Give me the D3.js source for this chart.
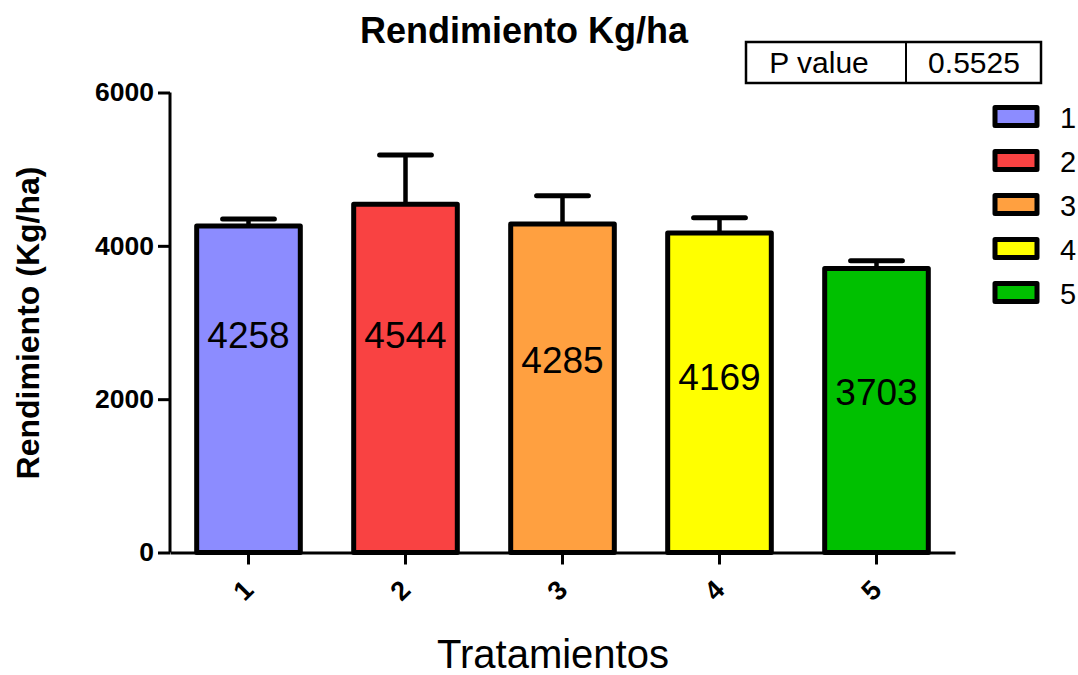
<!DOCTYPE html>
<html>
<head>
<meta charset="utf-8">
<script src="https://cdn.jsdelivr.net/npm/d3@7"></script>
<style>
  body { margin: 0; background: #fff; }
  text { font-family: Arial, "Liberation Sans", sans-serif; }
</style>
</head>
<body>
<div id="container"></div>
<script>
var width = 1078,
    height = 675;

// data
var treatments = ["1", "2", "3", "4", "5"];
var means = [4258, 4544, 4285, 4169, 3703];
var sem = [92, 641, 369, 198, 103];
var labelAt = [2661, 2661, 2335, 2126, 1930];   // where the value labels sit (Kg/ha)
var colors = ["#8c8cff", "#f94242", "#ffa040", "#ffff00", "#00c000"];
var yTicks = [0, 2000, 4000, 6000];
var pValue = "0.5525";

var svg = d3.select("#container").append("svg")
    .attr("width", width)
    .attr("height", height);

var x = d3.scaleBand()
    .domain(treatments)
    .range([170, 955])
    .paddingInner(0.34)
    .paddingOuter(0.17);

var y = d3.scaleLinear()
    .domain([0, 6000])
    .range([552.5, 92.5]);

// bars
svg.selectAll(".bar")
    .data(means)
    .enter().append("rect")
    .attr("class", "bar")
    .attr("x", (d, i) => x(treatments[i]))
    .attr("y", d => y(d))
    .attr("width", x.bandwidth())
    .attr("height", d => y(0) - y(d))
    .attr("fill", (d, i) => colors[i])
    .attr("stroke", "#000")
    .attr("stroke-width", 5)
    .attr("stroke-linejoin", "round");

// error bars (upper only)
var eb = svg.selectAll(".err")
    .data(means)
    .enter().append("g")
    .attr("class", "err");
eb.append("line")
    .attr("x1", (d, i) => x(treatments[i]) + x.bandwidth() / 2)
    .attr("x2", (d, i) => x(treatments[i]) + x.bandwidth() / 2)
    .attr("y1", d => y(d))
    .attr("y2", (d, i) => y(d + sem[i]))
    .attr("stroke", "#000")
    .attr("stroke-width", 4.5);
eb.append("line")
    .attr("x1", (d, i) => x(treatments[i]) + x.bandwidth() / 4)
    .attr("x2", (d, i) => x(treatments[i]) + x.bandwidth() * 3 / 4)
    .attr("y1", (d, i) => y(d + sem[i]))
    .attr("y2", (d, i) => y(d + sem[i]))
    .attr("stroke", "#000")
    .attr("stroke-width", 5)
    .attr("stroke-linecap", "round");

// value labels
svg.selectAll(".val")
    .data(means)
    .enter().append("text")
    .attr("class", "val")
    .attr("x", (d, i) => x(treatments[i]) + x.bandwidth() / 2)
    .attr("y", (d, i) => y(labelAt[i]))
    .attr("text-anchor", "middle")
    .attr("font-size", 37)
    .text(d => d);

// y axis
var yAxis = svg.append("g")
    .attr("transform", "translate(170,0)")
    .call(d3.axisLeft(y).tickValues(yTicks).tickSize(12).tickPadding(4).tickFormat(d3.format("d")));
yAxis.select(".domain").attr("stroke-width", 3).attr("d", "M0," + y(6000) + "V" + y(0));
yAxis.selectAll(".tick line").attr("stroke-width", 3);
yAxis.selectAll(".tick text")
    .attr("font-size", 26.5)
    .attr("font-weight", "bold")
    .attr("fill", "#000");

// x axis
var xAxis = svg.append("g")
    .attr("transform", "translate(0," + y(0) + ")")
    .call(d3.axisBottom(x).tickSize(12).tickSizeOuter(0));
xAxis.select(".domain").attr("stroke-width", 3);
xAxis.selectAll(".tick line").attr("stroke-width", 3);
xAxis.selectAll(".tick text")
    .attr("font-size", 27)
    .attr("font-weight", "bold")
    .attr("fill", "#000")
    .attr("text-anchor", "middle")
    .attr("dy", null)
    .attr("y", 0)
    .attr("transform", "translate(-5,38) rotate(-45)")
    .attr("dominant-baseline", "central");

// titles
svg.append("text")
    .attr("x", 524)
    .attr("y", 43)
    .attr("text-anchor", "middle")
    .attr("font-size", 36)
    .attr("font-weight", "bold")
    .text("Rendimiento Kg/ha");

svg.append("text")
    .attr("x", 553)
    .attr("y", 668)
    .attr("text-anchor", "middle")
    .attr("font-size", 40)
    .text("Tratamientos");

svg.append("text")
    .attr("transform", "translate(39,323) rotate(-90)")
    .attr("text-anchor", "middle")
    .attr("font-size", 32)
    .attr("font-weight", "bold")
    .text("Rendimiento (Kg/ha)");

// P value box
var pb = svg.append("g");
pb.append("rect")
    .attr("x", 746).attr("y", 42)
    .attr("width", 295).attr("height", 41)
    .attr("fill", "none").attr("stroke", "#000").attr("stroke-width", 2.5);
pb.append("line")
    .attr("x1", 906).attr("x2", 906).attr("y1", 42).attr("y2", 83)
    .attr("stroke", "#000").attr("stroke-width", 2);
pb.append("text").attr("x", 819).attr("y", 73).attr("text-anchor", "middle")
    .attr("font-size", 30).text("P value");
pb.append("text").attr("x", 974).attr("y", 73).attr("text-anchor", "middle")
    .attr("font-size", 30).text(pValue);

// legend
var lg = svg.selectAll(".leg")
    .data(treatments)
    .enter().append("g")
    .attr("class", "leg")
    .attr("transform", (d, i) => "translate(995," + (107.5 + i * 44) + ")");
lg.append("rect")
    .attr("width", 42).attr("height", 18)
    .attr("fill", (d, i) => colors[i])
    .attr("stroke", "#000").attr("stroke-width", 5)
    .attr("stroke-linejoin", "round");
lg.append("text")
    .attr("x", 65).attr("y", 20)
    .attr("font-size", 29)
    .text(d => d);
</script>
</body>
</html>
